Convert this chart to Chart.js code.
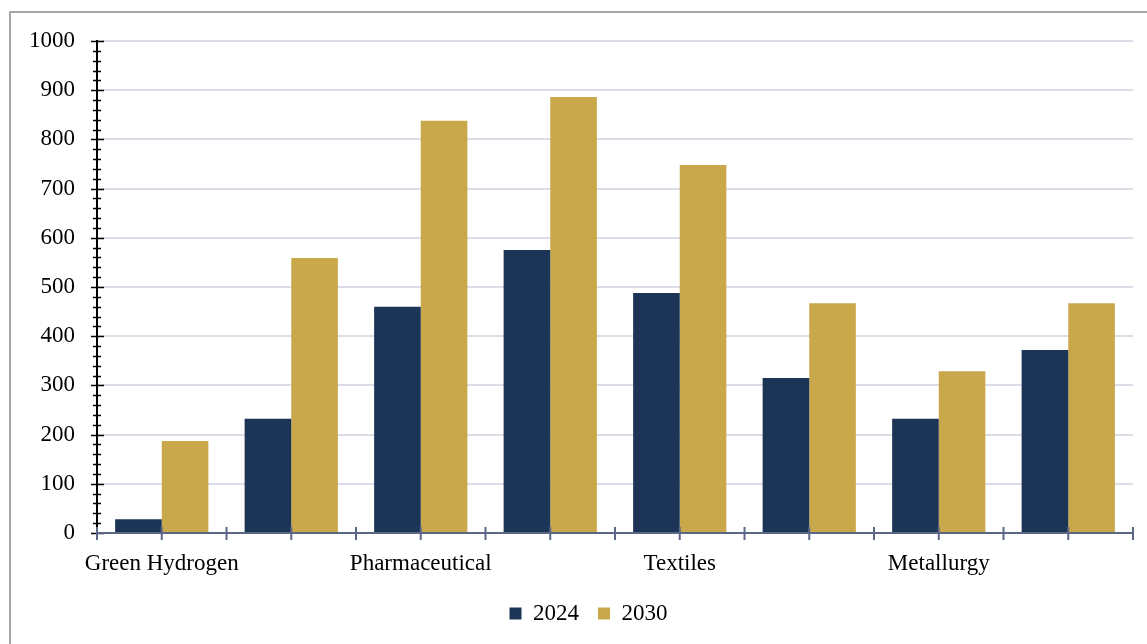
<!DOCTYPE html>
<html>
<head>
<meta charset="utf-8">
<script src="https://cdn.jsdelivr.net/npm/chart.js@4/dist/chart.umd.min.js"></script>
<style>
  html, body { margin: 0; padding: 0; background: #ffffff; overflow: hidden; }
  #wrap { position: relative; width: 1147px; height: 644px; }
  #frame { position: absolute; left: 9px; top: 11px; width: 1200px; height: 700px;
           border: 2px solid #a6a6a6; box-sizing: border-box; }
  #c { position: absolute; left: 0; top: 0; }
</style>
</head>
<body>
<div id="wrap">
  <div id="frame"></div>
  <canvas id="c" width="1147" height="644"></canvas>
</div>
<script>
// Sector demand, 2024 vs 2030
const categories = ['Green Hydrogen', 'Semiconductors', 'Pharmaceutical', 'Automotive',
                    'Textiles', 'Food Processing', 'Metallurgy', 'Logistics'];
const values2024 = [28, 232, 460, 575, 488, 315, 232, 372];
const values2030 = [187, 559, 838, 886, 748, 467, 329, 467];
const seriesNames = ['2024', '2030'];
const yTicks = { min: 0, max: 1000, major: 100, minor: 20 };

const NAVY = '#1c3557';
const GOLD = '#c9a84c';
const FONT = { family: '"Liberation Serif", "Times New Roman", serif', size: 23 };

// Axis lines and cross-style tick marks, drawn over the bars
const axisMarks = {
  id: 'axisMarks',
  afterLayout(chart) {
    // nudge the legend row a little to the right
    if (chart.legend) { chart.legend.left += 22; chart.legend.right += 22; }
  },
  afterDatasetsDraw(chart) {
    const { ctx, chartArea: a, scales: { x, y } } = chart;
    ctx.save();
    // value axis
    ctx.strokeStyle = '#000000';
    ctx.lineWidth = 2;
    ctx.beginPath();
    ctx.moveTo(a.left, y.getPixelForValue(yTicks.max) - 1);
    ctx.lineTo(a.left, y.getPixelForValue(yTicks.min));
    ctx.stroke();
    ctx.lineWidth = 1.5;
    for (let v = yTicks.min; v <= yTicks.max; v += yTicks.minor) {
      const py = Math.round(y.getPixelForValue(v)) + 0.5;
      const major = v % yTicks.major === 0;
      ctx.beginPath();
      ctx.moveTo(a.left - (major ? 6 : 4), py);
      ctx.lineTo(a.left + (major ? 7 : 4), py);
      ctx.stroke();
    }
    // category axis
    const base = y.getPixelForValue(0);
    ctx.strokeStyle = '#5b6784';
    ctx.lineWidth = 2;
    ctx.beginPath();
    ctx.moveTo(a.left, base);
    ctx.lineTo(a.right, base);
    ctx.stroke();
    const n = categories.length;
    const marks = [];
    for (let i = 0; i < n; i++) {
      const c = x.getPixelForValue(i);
      const prev = i > 0 ? (x.getPixelForValue(i - 1) + c) / 2 : a.left;
      marks.push(prev, c);
    }
    marks.push(a.right);
    marks.forEach(px => {
      ctx.beginPath();
      ctx.moveTo(px, base - 6);
      ctx.lineTo(px, base + 7);
      ctx.stroke();
    });
    ctx.restore();
  }
};

new Chart(document.getElementById('c'), {
  type: 'bar',
  data: {
    labels: categories,
    datasets: [
      { label: seriesNames[0], data: values2024, backgroundColor: NAVY },
      { label: seriesNames[1], data: values2030, backgroundColor: GOLD }
    ]
  },
  options: {
    responsive: false,
    animation: false,
    devicePixelRatio: 1,
    layout: { padding: { left: 0, right: 14, top: 41, bottom: 9 } },
    datasets: { bar: { categoryPercentage: 0.72, barPercentage: 1.0 } },
    plugins: {
      legend: {
        position: 'bottom',
        labels: { font: FONT, color: '#000', boxWidth: 12, boxHeight: 12, padding: 19 }
      },
      tooltip: { enabled: false }
    },
    scales: {
      x: {
        grid: { display: false },
        border: { display: false },
        ticks: {
          font: FONT, color: '#000', padding: 9, autoSkip: false, maxRotation: 0,
          callback: (v, i) => (i % 2 === 0 ? categories[i] : '')
        },
        afterFit: s => { s.height = 50; }
      },
      y: {
        min: yTicks.min, max: yTicks.max,
        grid: { color: '#dcdde9', lineWidth: 2, drawTicks: false },
        border: { display: false },
        ticks: {
          font: FONT, color: '#000', padding: 22, stepSize: yTicks.major,
          callback: v => String(v)
        },
        afterFit: s => { s.width = 97; }
      }
    }
  },
  plugins: [axisMarks]
});
</script>
</body>
</html>
